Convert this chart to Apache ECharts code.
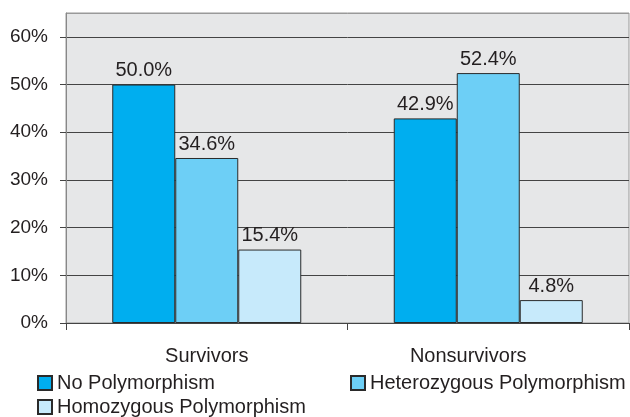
<!DOCTYPE html>
<html>
<head>
<meta charset="utf-8">
<script src="https://cdn.jsdelivr.net/npm/echarts@6/dist/echarts.min.js"></script>
<style>html,body{margin:0;padding:0;background:#fff}#c{width:630px;height:417px}</style>
</head>
<body>
<div id="c"></div>
<script>
const categories = ['Survivors', 'Nonsurvivors'];
const seriesNames = ['No Polymorphism', 'Heterozygous Polymorphism', 'Homozygous Polymorphism'];
const noPoly = [50.0, 42.9];
const hetero = [34.6, 52.4];
const homo = [15.4, 4.8];
const yTicks = [0, 10, 20, 30, 40, 50, 60];

const colors = ['#00aeef', '#6dcff6', '#c7eafb'];
const font = 'Liberation Sans, Arial, sans-serif';
const textColor = '#231f20';

function mkSeries(name, data, color) {
  return {
    name: name, type: 'bar', data: data, barWidth: 63, barGap: '0%',
    itemStyle: { color: color, borderColor: '#2a2a2a', borderWidth: 1 },
    label: { show: true, position: 'top', distance: 4, formatter: p => p.value.toFixed(1) + '%',
      fontFamily: font, fontSize: 20, color: textColor },
    emphasis: { disabled: true }
  };
}

const chart = echarts.init(document.getElementById('c'));
const legendBase = {
  orient: 'horizontal', itemWidth: 14, itemHeight: 14, icon: 'rect', itemGap: 10,
  textStyle: { fontFamily: font, fontSize: 20, color: textColor }, padding: 0, selectedMode: false
};
chart.setOption({
  animation: false,
  grid: { left: 66, right: 1, top: 13, bottom: 94, show: true, backgroundColor: '#e6e7e8', borderColor: '#999', borderWidth: 1 },
  legend: [
    Object.assign({}, legendBase, { data: [seriesNames[0]], left: 37, top: 373 }),
    Object.assign({}, legendBase, { data: [seriesNames[1]], left: 350, top: 373 }),
    Object.assign({}, legendBase, { data: [seriesNames[2]], left: 37, top: 397 })
  ],
  xAxis: {
    type: 'category',
    data: [categories[0], { value: categories[1], textStyle: { padding: [0, 40, 0, 0] } }],
    axisLine: { lineStyle: { color: '#444', width: 1 } },
    axisTick: { show: true, length: 7, lineStyle: { color: '#444' } },
    axisLabel: { fontFamily: font, fontSize: 20, color: textColor, margin: 23 }
  },
  yAxis: {
    type: 'value', min: 0, max: 65, interval: 10,
    axisLine: { show: true, lineStyle: { color: '#888' } },
    axisTick: { show: true, length: 6, lineStyle: { color: '#444' } },
    axisLabel: { fontFamily: font, fontSize: 19, color: textColor, margin: 18,
      formatter: v => yTicks.indexOf(v) >= 0 ? v + '%' : '' , showMaxLabel: false},
    splitLine: { show: true, lineStyle: { color: ['#444', '#444', '#444', '#444', '#444', '#444', '#444', '#999'], width: 1 } }
  },
  series: [
    mkSeries(seriesNames[0], noPoly, colors[0]),
    mkSeries(seriesNames[1], hetero, colors[1]),
    mkSeries(seriesNames[2], homo, colors[2])
  ]
});
</script>
</body>
</html>
